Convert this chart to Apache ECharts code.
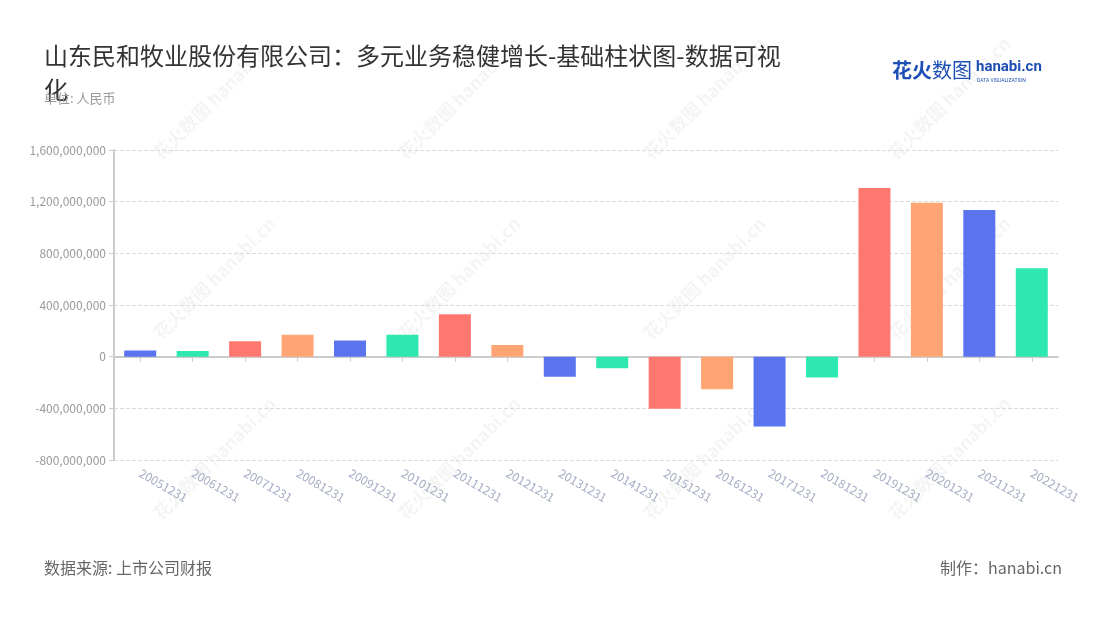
<!DOCTYPE html>
<html>
<head>
<meta charset="utf-8">
<title>山东民和牧业股份有限公司</title>
<script src="https://cdn.jsdelivr.net/npm/echarts@6/dist/echarts.min.js"></script>
<style>
  html, body { margin: 0; padding: 0; background: #fff; }
  #main { width: 1100px; height: 620px; }
</style>
</head>
<body>
<div id="main"></div>
<script>
// 报告期
var categories = ["20051231", "20061231", "20071231", "20081231", "20091231", "20101231",
  "20111231", "20121231", "20131231", "20141231", "20151231", "20161231",
  "20171231", "20181231", "20191231", "20201231", "20211231", "20221231"];
// 数值（人民币）
var values = [48000000, 43000000, 120000000, 169000000, 125000000, 169000000,
  329000000, 91000000, -156000000, -90000000, -404000000, -252000000,
  -541000000, -161000000, 1306000000, 1192000000, 1135000000, 684000000];
var yTicks = [-800000000, 1600000000, 400000000]; // min, max, interval

var myColor = ["#5a73ef", "#2de8b0", "#ff7870", "#ffa574"];
var fontCN = "'Noto Sans CJK SC', 'Noto Sans', sans-serif";

var myChart = echarts.init(document.getElementById('main'));

// 水印
var marks = [];
[150, 395, 640, 885].forEach(function (x) {
  [150, 330, 510].forEach(function (y) {
    marks.push({
      type: 'text', x: x, y: y, rotation: Math.PI / 4, silent: true, z: -1,
      style: { text: '花火数图 hanabi.cn', fill: 'rgba(0,0,0,0.045)', font: 'bold 18px ' + fontCN }
    });
  });
});

var option = {
  textStyle: { fontFamily: fontCN },
  title: [
    {
      text: '山东民和牧业股份有限公司：多元业务稳健增长-基础柱状图-数据可视\n化',
      left: 39, top: 34,
      textStyle: { fontSize: 24, fontWeight: 'normal', color: '#333', lineHeight: 34, fontFamily: fontCN }
    },
    {
      text: '单位: 人民币', left: 39, top: 87,
      textStyle: { fontSize: 13, fontWeight: 'normal', color: '#999', fontFamily: fontCN }
    },
    {
      text: '数据来源: 上市公司财报', left: 39, top: 555,
      textStyle: { fontSize: 16, fontWeight: 'normal', color: '#666', fontFamily: fontCN }
    },
    {
      text: '制作：hanabi.cn', right: 33, top: 555,
      textStyle: { fontSize: 16, fontWeight: 'normal', color: '#666', fontFamily: fontCN }
    }
  ],
  graphic: marks.concat([
    { type: 'text', left: 892, top: 60, style: { text: '花火', fill: '#1d4fb5', font: 'bold 20px ' + fontCN } },
    { type: 'text', left: 932, top: 60, style: { text: '数图', fill: '#1d4fb5', font: '20px ' + fontCN } },
    { type: 'text', left: 976, top: 60, style: { text: 'hanabi.cn', fill: '#1d4fb5', font: 'bold 15px Roboto, sans-serif' } },
    { type: 'text', left: 977, top: 78, style: { text: 'DATA VISUALIZATION', fill: '#1d4fb5', font: '5px Roboto, sans-serif' } }
  ]),
  grid: { left: 114, right: 42, top: 150, bottom: 160 },
  xAxis: {
    type: 'category',
    data: categories,
    axisTick: { show: true, alignWithLabel: true, lineStyle: { color: '#ccc' } },
    axisLine: { lineStyle: { color: '#ccc', width: 2 } },
    axisLabel: { rotate: -30, color: '#a6adc4', fontSize: 12, interval: 0, margin: 12, fontFamily: fontCN }
  },
  yAxis: {
    type: 'value',
    min: yTicks[0],
    max: yTicks[1],
    interval: yTicks[2],
    axisLine: { show: true, lineStyle: { color: '#ccc', width: 2 } },
    axisTick: { show: true, lineStyle: { color: '#ccc' } },
    axisLabel: {
      color: '#999', fontSize: 12, fontFamily: fontCN,
      formatter: function (v) { return echarts.format.addCommas(v); }
    },
    splitLine: { lineStyle: { color: '#ddd', type: 'dashed' } }
  },
  series: [{
    type: 'bar',
    data: values,
    barWidth: 32,
    itemStyle: {
      color: function (params) {
        return myColor[params.dataIndex % 4];
      }
    }
  }]
};

myChart.setOption(option);
window.addEventListener("resize", function () {
  myChart.resize();
});
</script>
</body>
</html>
